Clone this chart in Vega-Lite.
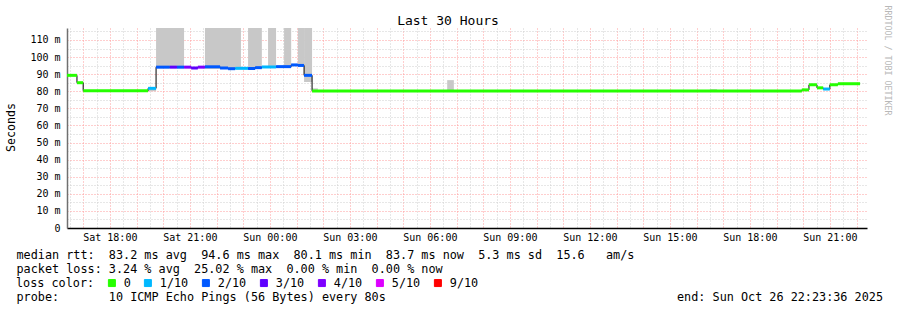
{
  "$schema": "https://vega.github.io/schema/vega-lite/v6.json",
  "width": 800,
  "height": 200,
  "autosize": {"type": "none"},
  "padding": {"left": 67, "top": 28, "right": 30, "bottom": 82},
  "background": "white",
  "config": {
    "font": "DejaVu Sans Mono",
    "view": {"stroke": null}
  },
  "title": {
    "text": "Last 30 Hours",
    "font": "DejaVu Sans Mono",
    "fontSize": 13,
    "fontWeight": "normal",
    "color": "#000000",
    "anchor": "middle",
    "frame": "group",
    "dx": -19,
    "baseline": "alphabetic",
    "offset": -33
  },
  "datasets": {
    "median": [
      {"start": "2025-10-25T16:23:36Z", "end": "2025-10-25T16:46:00Z", "ms": 89.3, "loss": "0"},
      {"start": "2025-10-25T16:46:00Z", "end": "2025-10-25T17:00:00Z", "ms": 85.0, "loss": "0"},
      {"start": "2025-10-25T17:00:00Z", "end": "2025-10-25T19:26:00Z", "ms": 80.3, "loss": "0"},
      {"start": "2025-10-25T19:26:00Z", "end": "2025-10-25T19:44:00Z", "ms": 81.7, "loss": "1/10"},
      {"start": "2025-10-25T19:44:00Z", "end": "2025-10-25T20:15:00Z", "ms": 94.1, "loss": "2/10"},
      {"start": "2025-10-25T20:15:00Z", "end": "2025-10-25T20:31:00Z", "ms": 94.1, "loss": "3/10"},
      {"start": "2025-10-25T20:31:00Z", "end": "2025-10-25T20:47:00Z", "ms": 94.1, "loss": "2/10"},
      {"start": "2025-10-25T20:47:00Z", "end": "2025-10-25T21:03:00Z", "ms": 94.1, "loss": "4/10"},
      {"start": "2025-10-25T21:03:00Z", "end": "2025-10-25T21:18:00Z", "ms": 93.6, "loss": "3/10"},
      {"start": "2025-10-25T21:18:00Z", "end": "2025-10-25T21:34:00Z", "ms": 94.1, "loss": "4/10"},
      {"start": "2025-10-25T21:34:00Z", "end": "2025-10-25T22:08:00Z", "ms": 94.3, "loss": "2/10"},
      {"start": "2025-10-25T22:08:00Z", "end": "2025-10-25T22:26:00Z", "ms": 93.6, "loss": "2/10"},
      {"start": "2025-10-25T22:26:00Z", "end": "2025-10-25T22:42:00Z", "ms": 93.2, "loss": "2/10"},
      {"start": "2025-10-25T22:42:00Z", "end": "2025-10-25T23:11:00Z", "ms": 93.4, "loss": "1/10"},
      {"start": "2025-10-25T23:11:00Z", "end": "2025-10-25T23:27:00Z", "ms": 93.3, "loss": "2/10"},
      {"start": "2025-10-25T23:27:00Z", "end": "2025-10-25T23:42:00Z", "ms": 93.8, "loss": "2/10"},
      {"start": "2025-10-25T23:42:00Z", "end": "2025-10-26T00:14:00Z", "ms": 94.2, "loss": "1/10"},
      {"start": "2025-10-26T00:14:00Z", "end": "2025-10-26T00:48:00Z", "ms": 94.4, "loss": "2/10"},
      {"start": "2025-10-26T00:48:00Z", "end": "2025-10-26T01:03:00Z", "ms": 95.4, "loss": "2/10"},
      {"start": "2025-10-26T01:03:00Z", "end": "2025-10-26T01:17:00Z", "ms": 95.1, "loss": "2/10"},
      {"start": "2025-10-26T01:17:00Z", "end": "2025-10-26T01:35:00Z", "ms": 89.3, "loss": "2/10"},
      {"start": "2025-10-26T01:35:00Z", "end": "2025-10-26T19:57:00Z", "ms": 80.2, "loss": "0"},
      {"start": "2025-10-26T19:57:00Z", "end": "2025-10-26T20:13:00Z", "ms": 80.8, "loss": "0"},
      {"start": "2025-10-26T20:13:00Z", "end": "2025-10-26T20:31:00Z", "ms": 83.8, "loss": "0"},
      {"start": "2025-10-26T20:31:00Z", "end": "2025-10-26T20:45:00Z", "ms": 82.0, "loss": "0"},
      {"start": "2025-10-26T20:45:00Z", "end": "2025-10-26T21:00:00Z", "ms": 81.3, "loss": "1/10"},
      {"start": "2025-10-26T21:00:00Z", "end": "2025-10-26T21:18:00Z", "ms": 83.8, "loss": "0"},
      {"start": "2025-10-26T21:18:00Z", "end": "2025-10-26T22:08:00Z", "ms": 84.4, "loss": "0"}
    ],
    "smoke": [
      {"start": "2025-10-25T19:26:00Z", "end": "2025-10-25T19:44:00Z", "lo": 80.0, "hi": 81.7},
      {"start": "2025-10-25T19:44:00Z", "end": "2025-10-25T20:47:00Z", "lo": 93.5, "hi": 117},
      {"start": "2025-10-25T21:34:00Z", "end": "2025-10-25T22:55:00Z", "lo": 93.0, "hi": 117},
      {"start": "2025-10-25T23:11:00Z", "end": "2025-10-25T23:42:00Z", "lo": 93.0, "hi": 117},
      {"start": "2025-10-25T23:56:00Z", "end": "2025-10-26T00:14:00Z", "lo": 94.0, "hi": 117},
      {"start": "2025-10-26T00:32:00Z", "end": "2025-10-26T00:48:00Z", "lo": 94.0, "hi": 117},
      {"start": "2025-10-26T01:03:00Z", "end": "2025-10-26T01:17:00Z", "lo": 94.5, "hi": 117},
      {"start": "2025-10-26T01:17:00Z", "end": "2025-10-26T01:35:00Z", "lo": 85.4, "hi": 117},
      {"start": "2025-10-26T01:35:00Z", "end": "2025-10-26T01:48:00Z", "lo": 80.2, "hi": 81.7},
      {"start": "2025-10-26T06:39:00Z", "end": "2025-10-26T06:54:00Z", "lo": 80.5, "hi": 86.5},
      {"start": "2025-10-26T16:30:00Z", "end": "2025-10-26T16:46:00Z", "lo": 80.2, "hi": 81.2}
    ]
  },
  "resolve": {"axis": {"y": "independent"}},
  "layer": [
    {
      "data": {"name": "smoke"},
      "mark": {"type": "rect", "color": "#c8c8c8", "clip": true},
      "encoding": {
        "x": {
          "field": "start",
          "type": "temporal",
          "scale": {
            "type": "utc",
            "nice": false,
            "domain": [
              {"year": 2025, "month": 10, "date": 25, "hours": 16, "minutes": 23, "seconds": 36, "utc": true},
              {"year": 2025, "month": 10, "date": 26, "hours": 22, "minutes": 23, "seconds": 36, "utc": true}
            ]
          },
          "axis": {
            "orient": "bottom",
            "title": [
              "median rtt:\u00a0\u00a083.2 ms avg\u00a0\u00a094.6 ms max\u00a0\u00a080.1 ms min\u00a0\u00a083.7 ms now\u00a0\u00a05.3 ms sd\u00a0\u00a015.6\u00a0\u00a0\u00a0am/s",
              "packet loss: 3.24 % avg\u00a0\u00a025.02 % max\u00a0\u00a00.00 % min\u00a0\u00a00.00 % now",
              "\u2800",
              "probe:\u00a0\u00a0\u00a0\u00a0\u00a0\u00a0\u00a010 ICMP Echo Pings (56 Bytes) every 80s\u00a0\u00a0\u00a0\u00a0\u00a0\u00a0\u00a0\u00a0\u00a0\u00a0\u00a0\u00a0\u00a0\u00a0\u00a0\u00a0\u00a0\u00a0\u00a0\u00a0\u00a0\u00a0\u00a0\u00a0\u00a0\u00a0\u00a0\u00a0\u00a0\u00a0\u00a0\u00a0\u00a0\u00a0\u00a0\u00a0\u00a0\u00a0\u00a0\u00a0\u00a0end: Sun Oct 26 22:23:36 2025"
            ],
            "titleFont": "DejaVu Sans Mono",
            "titleFontSize": 11.8,
            "titleFontWeight": "normal",
            "titleColor": "#000000",
            "titleAlign": "left",
            "titleBaseline": "alphabetic",
            "titleX": -51,
            "titleY": 30,
            "titleLineHeight": 14,
            "tickCount": 60,
            "labelExpr": "utchours(datum.value) % 3 === 0 && utcminutes(datum.value) === 0 ? utcFormat(datum.value, '%a %H:%M') : ''",
            "labelFont": "DejaVu Sans Mono",
            "labelFontSize": 10,
            "labelColor": "#000000",
            "labelPadding": 4,
            "labelFlush": false,
            "labelOverlap": false,
            "ticks": false,
            "domainColor": "#000000",
            "domainWidth": 1.5,
            "grid": true,
            "gridColor": {"condition": {"test": "utcminutes(datum.value) === 0", "value": "#ff9c9c"}, "value": "#cfcfcf"},
            "gridDash": [1, 2],
            "gridWidth": 1,
            "gridOpacity": 1
          }
        },
        "x2": {"field": "end"},
        "y": {
          "field": "lo",
          "type": "quantitative",
          "scale": {"domain": [0, 117], "nice": false, "zero": true},
          "axis": {
            "title": "Seconds",
            "titleFont": "DejaVu Sans Mono",
            "titleFontSize": 11.6,
            "titleFontWeight": "normal",
            "titleColor": "#000000",
            "titleAngle": -90,
            "titleAlign": "center",
            "titleBaseline": "middle",
            "titleX": -56,
            "titleY": 99,
            "values": [0, 5, 10, 15, 20, 25, 30, 35, 40, 45, 50, 55, 60, 65, 70, 75, 80, 85, 90, 95, 100, 105, 110, 115],
            "labelExpr": "datum.value % 10 === 0 ? (datum.value === 0 ? '0\u00a0\u00a0' : datum.value + ' m') : ''",
            "labelFont": "DejaVu Sans Mono",
            "labelFontSize": 10,
            "labelColor": "#000000",
            "labelPadding": 7,
            "labelOverlap": false,
            "ticks": false,
            "domainColor": "#707070",
            "domainWidth": 1.5,
            "grid": true,
            "gridColor": {"condition": {"test": "datum.value % 10 === 0", "value": "#ff9c9c"}, "value": "#cfcfcf"},
            "gridDash": [1, 2],
            "gridWidth": 1,
            "gridOpacity": 1
          }
        },
        "y2": {"field": "hi"}
      }
    },
    {
      "data": {"name": "median"},
      "mark": {"type": "line", "interpolate": "step-after", "color": "#000000", "strokeWidth": 1},
      "encoding": {
        "x": {"field": "start", "type": "temporal"},
        "y": {"field": "ms", "type": "quantitative", "axis": null}
      }
    },
    {
      "data": {"name": "median"},
      "mark": {"type": "rule", "strokeWidth": 3},
      "encoding": {
        "x": {"field": "start", "type": "temporal"},
        "x2": {"field": "end"},
        "y": {
          "field": "ms",
          "type": "quantitative",
          "axis": {
            "orient": "right",
            "title": "RRDTOOL / TOBI OETIKER",
            "titleFont": "DejaVu Sans Mono",
            "titleFontSize": 8.3,
            "titleFontWeight": "normal",
            "titleColor": "#b8b8b8",
            "titleAngle": 90,
            "titleAlign": "center",
            "titleBaseline": "middle",
            "titleX": 19,
            "titleY": 32,
            "labels": false,
            "ticks": false,
            "domain": false,
            "grid": false
          }
        },
        "color": {
          "field": "loss",
          "type": "nominal",
          "scale": {
            "domain": ["0", "1/10", "2/10", "3/10", "4/10", "5/10", "9/10"],
            "range": ["#26ff00", "#00b8ff", "#0059ff", "#5e00ff", "#7e00ff", "#dd00ff", "#ff0000"]
          },
          "legend": {
            "title": "loss color:",
            "orient": "none",
            "legendX": -51,
            "legendY": 249,
            "direction": "horizontal",
            "titleOrient": "left",
            "titleFont": "DejaVu Sans Mono",
            "titleFontSize": 11.8,
            "titleFontWeight": "normal",
            "titleColor": "#000000",
            "titlePadding": 11,
            "labelFont": "DejaVu Sans Mono",
            "labelFontSize": 11.8,
            "labelColor": "#000000",
            "labelOffset": 6,
            "columnPadding": 11,
            "symbolType": "square",
            "symbolSize": 49,
            "symbolStrokeWidth": 1,
            "symbolStrokeColor": "#000000",
            "padding": 0,
            "encode": {
              "symbols": {
                "update": {
                  "fill": {"scale": "color", "field": "value"},
                  "stroke": {"value": "#000000"},
                  "strokeWidth": {"value": 1},
                  "opacity": {"value": 1}
                }
              }
            }
          }
        }
      }
    }
  ]
}
